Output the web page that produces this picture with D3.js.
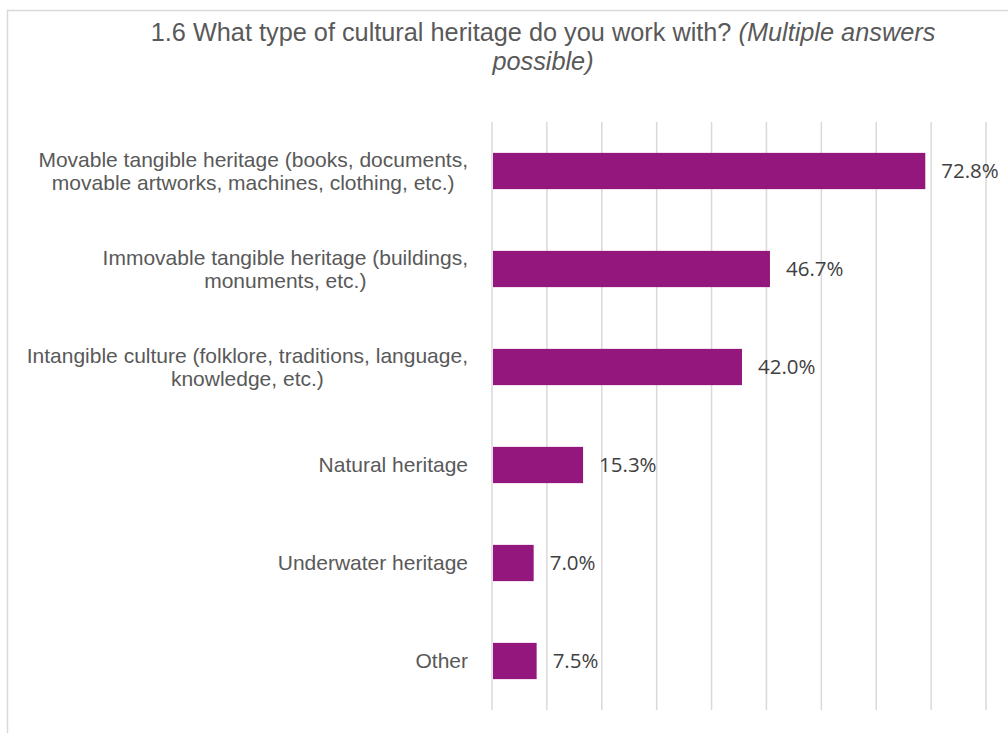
<!DOCTYPE html>
<html>
<head>
<meta charset="utf-8">
<script src="https://cdn.jsdelivr.net/npm/d3@7"></script>
<style>
  html, body { margin: 0; padding: 0; background: #fff; }
  svg { display: block; }
</style>
</head>
<body>
<svg id="chart" width="1008" height="733"></svg>
<script>
// Survey answers: share of respondents per heritage type
const categories = [
  ["Movable tangible heritage (books, documents,", "movable artworks, machines, clothing, etc.)"],
  ["Immovable tangible heritage (buildings,", "monuments, etc.)"],
  ["Intangible culture (folklore, traditions, language,", "knowledge, etc.)"],
  ["Natural heritage"],
  ["Underwater heritage"],
  ["Other"]
];
const values = [72.8, 46.7, 42.0, 15.3, 7.0, 7.5];
const valueLabels = ["72.8%", "46.7%", "42.0%", "15.3%", "7.0%", "7.5%"];
const gridCount = 10;   // vertical gridlines across the plot
const axisMax = 83;

const svg = d3.select("#chart");
const W = 1008, H = 733;
const plot = { left: 492, right: 986, top: 122, bottom: 710 };

// chart frame
svg.append("rect")
  .attr("x", 7.5).attr("y", 10.5)
  .attr("width", W + 10).attr("height", H + 10)
  .attr("fill", "#fff")
  .attr("stroke", "#d9d9d9").attr("stroke-width", 1.5);

// title
const title = svg.append("text")
  .attr("text-anchor", "middle")
  .attr("font-family", "'Liberation Sans', Arial, sans-serif")
  .attr("font-size", 25.3)
  .attr("fill", "#595959");
const t1 = title.append("tspan").attr("x", 543).attr("y", 41);
t1.append("tspan").text("1.6 What type of cultural heritage do you work with? ");
t1.append("tspan").attr("font-style", "italic").text("(Multiple answers");
title.append("tspan").attr("x", 543).attr("y", 70)
  .attr("font-style", "italic").text("possible)");

const x = d3.scaleLinear().domain([0, axisMax]).range([plot.left, plot.right]);
const y = d3.scaleBand().domain(d3.range(values.length))
  .range([plot.top, plot.bottom]).paddingInner(0.63).paddingOuter(0.315);

// gridlines
const gridVals = d3.range(gridCount).map(i => i * axisMax / (gridCount - 1));
svg.append("g").selectAll("line").data(gridVals).join("line")
  .attr("x1", d => x(d)).attr("x2", d => x(d))
  .attr("y1", plot.top).attr("y2", plot.bottom)
  .attr("stroke", "#d9d9d9").attr("stroke-width", 1.5);

// bars
svg.append("g").selectAll("rect").data(values).join("rect")
  .attr("x", x(0) + 1)
  .attr("y", (d, i) => y(i))
  .attr("width", d => x(d) - x(0) - 1)
  .attr("height", y.bandwidth())
  .attr("fill", "#94177e");

// value labels
svg.append("g").selectAll("text").data(values).join("text")
  .attr("x", d => x(d) + 16)
  .attr("y", (d, i) => y(i) + y.bandwidth() / 2)
  .attr("dy", "0.36em")
  .attr("font-family", "'Open Sans', sans-serif")
  .attr("font-size", 20.5)
  .attr("fill", "#404040")
  .text((d, i) => valueLabels[i]);

// category labels: lines centred within a block that is right-aligned to the axis
const labelRight = 468;
const lineH = 22.5;
const catG = svg.append("g")
  .attr("font-family", "'Liberation Sans', Arial, sans-serif")
  .attr("font-size", 21)
  .attr("fill", "#595959");
categories.forEach((lines, i) => {
  const cy = y(i) + y.bandwidth() / 2;
  const g = catG.append("g");
  const texts = lines.map((ln, k) => g.append("text")
    .attr("y", cy + (k - (lines.length - 1) / 2) * lineH)
    .attr("dy", "0.35em")
    .attr("text-anchor", "middle")
    .text(ln));
  const widest = d3.max(texts, t => t.node().getComputedTextLength());
  texts.forEach(t => t.attr("x", labelRight - widest / 2));
});
</script>
</body>
</html>
